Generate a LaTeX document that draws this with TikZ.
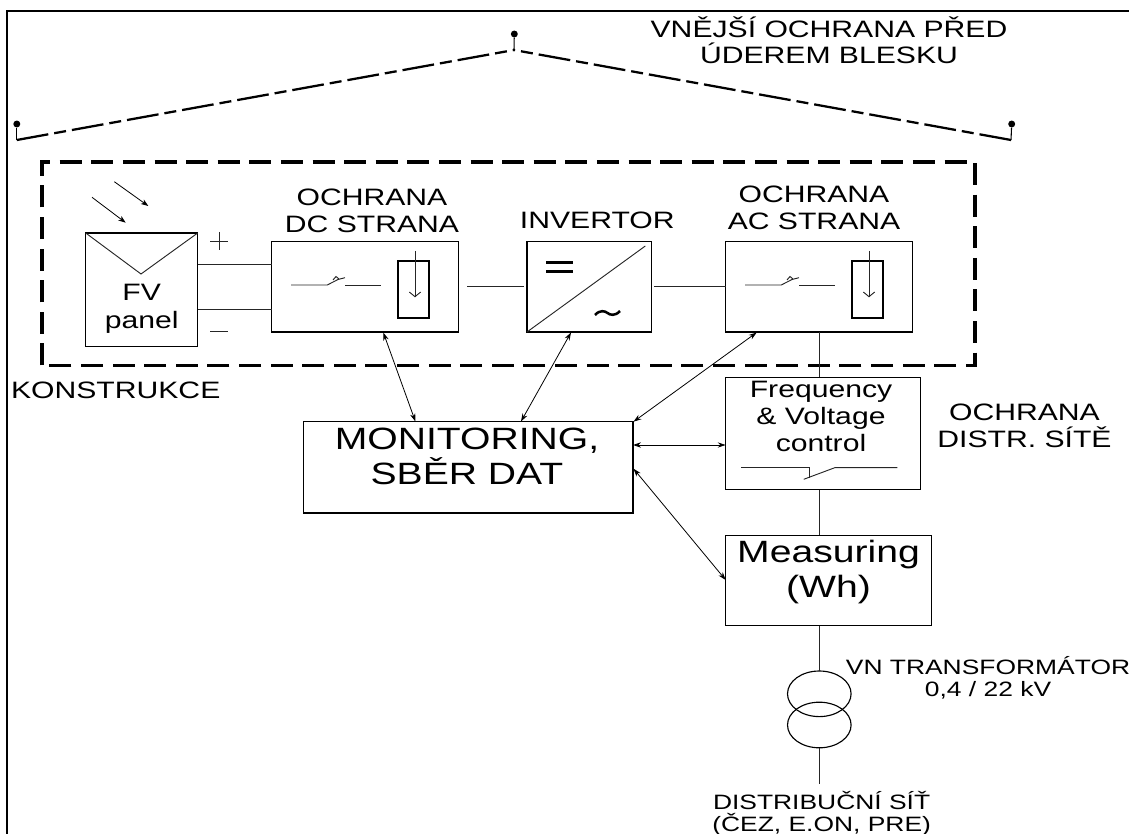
\documentclass[tikz,border=0pt]{standalone}
\usepackage{fontspec}
\setmainfont[FakeStretch=1.27]{Liberation Sans}
\usetikzlibrary{arrows.meta,shapes.geometric}
\newcommand{\bx}[5]{%
  \pgfmathsetlengthmacro{\bxw}{(#4-#2)*0.75pt}%
  \pgfmathsetlengthmacro{\bxh}{(#5-#3)*0.75pt}%
  \node[boxnode,minimum width=\bxw,minimum height=\bxh] (#1) at ({(#2+#4)/2},{(#3+#5)/2}) {};}
\tikzset{
  x=0.75pt,y=-0.75pt,
  boxnode/.style={draw=black,line width=0.85pt,inner sep=0pt,outer sep=0pt},
  wire/.style={line width=0.7pt,black!85},
  frameline/.style={line width=1.7pt,black},
  roofline/.style={line width=1.7pt,dash pattern=on 24pt off 4.5pt on 9pt off 4.5pt},
  pin/.style={line width=0.8pt},
  pinhead/.style={circle,fill=black,inner sep=0pt,minimum size=5.2pt},
  fuse/.style={draw=black,line width=1.4pt,inner sep=0pt,outer sep=0pt},
  duplex/.style={line width=0.6pt,{Stealth[length=6pt,width=4pt]}-{Stealth[length=6pt,width=4pt]}},
  sunray/.style={line width=0.6pt,-{Stealth[length=5.5pt,width=4pt,inset=1.5pt]}},
  lab/.style={inner sep=0pt,outer sep=0pt,anchor=base,align=center,text=black},
  normal/.style={lab,font=\fontsize{17.8}{20.2}\selectfont},
  big/.style={lab,font=\fontsize{23.1}{26.4}\selectfont},
  small/.style={lab,font=\fontsize{15.6}{16.5}\selectfont},
  coil/.style={draw=black,line width=0.85pt,ellipse,inner sep=0pt,outer sep=0pt,minimum width=47.7pt,minimum height=34.2pt},
}
\begin{document}
\begin{tikzpicture}
\useasboundingbox (0,0) rectangle (1129,834);
% sheet frame
\coordinate (fTR) at (1129,11);
\coordinate (fTL) at (6.8,11);
\coordinate (fBL) at (6.8,834);
\draw[frameline] (fTR) -- (fTL) -- (fBL);
% roof and air terminals
\coordinate (rL) at (16.8,140);
\coordinate (rA) at (514,50);
\coordinate (rR) at (1011,140);
\node[pinhead] (pL) at (16.8,124) {};
\node[pinhead] (pA) at (514.3,34) {};
\node[pinhead] (pR) at (1011.7,124) {};
\draw[pin] (pL) -- (rL);
\draw[pin] (pA) -- (rA);
\draw[pin] (pR) -- (rR);
\draw[roofline] (rL) -- (rA);
\draw[roofline] (rR) -- (rA);
% dashed structure
\draw[line width=2.3pt,dash pattern=on 16.5pt off 7.2pt] (42,365.5) -- (42,162) -- (975,162) -- (975,365.5) -- cycle;
% boxes
\bx{pv}{85.7}{233}{197.7}{346.3}
\bx{dc}{271.7}{241.3}{458.7}{332}
\bx{inv}{527}{241.3}{651.7}{332}
\bx{ac}{725.7}{241.3}{912.7}{332}
\bx{freq}{725.7}{377.3}{920.6}{489.7}
\bx{mon}{303.5}{421.7}{633}{513}
\bx{meas}{725.7}{535.3}{931.8}{625.7}
% sun rays
\coordinate (s1a) at (114.3,181.7);
\coordinate (s1b) at (148.3,206);
\coordinate (s2a) at (92,197.3);
\coordinate (s2b) at (125.7,222.7);
\draw[sunray] (s1a) -- (s1b);
\draw[sunray] (s2a) -- (s2b);
% panel
\coordinate (pvV) at (141,274);
\draw[wire] (pv.north west) -- (pvV) -- (pv.north east);
\node[normal] (tFV) at (141.7,329) {FV\\[0.8pt]panel};
\coordinate (w1) at (0,264);
\coordinate (w2) at (0,309.3);
\draw[wire] (pv.east |- w1) -- (dc.west |- w1);
\draw[wire] (pv.east |- w2) -- (dc.west |- w2);
\draw[wire,line width=0.55pt] (210,241) -- (228.3,241) (219,232) -- (219,250);
\draw[wire,line width=0.55pt] (210,331.7) -- (228.3,331.7);
% switch + fuse symbols
\foreach \dx/\nm in {0/dcs,454/acs}{
  \begin{scope}[shift={(\dx*0.75pt,0)}]
    \draw[wire] (291,285) -- (327.3,285) -- (338,279.5) -- (345,277.7);
    \draw[wire] (333,280) -- (336,276.5) -- (339,279);
    \draw[wire] (345,285.2) -- (380.7,285.2);
    \node[fuse,minimum width=23.7pt,minimum height=43pt] (\nm) at (413.5,289.7) {};
    \draw[wire] (415,251) -- (415,296.7);
    \draw[wire] (409.3,292) -- (415,296.7) -- (420.7,292);
  \end{scope}
}
% inverter symbol
\draw[wire] (inv.south west) -- (645.3,246);
\draw[line width=2.2pt] (546,262.7) -- (572.7,262.7) (546,271.7) -- (572.7,271.7);
\draw[line width=1.9pt] (595,315) .. controls (600,309.5) and (605,311) .. (607.5,313) .. controls (610,315) and (615,316.5) .. (620,311);
% series line
\coordinate (w3) at (0,286.3);
\draw[wire] (467.3,286.3) -- (524,286.3);
\draw[wire] (654.3,286.3) -- (ac.west |- w3);
% vertical chain
\coordinate (st) at (819.3,0);
\draw[wire] (ac.south -| st) -- (freq.north -| st);
\draw[wire] (freq.south -| st) -- (meas.north -| st);
\node[coil] (c1) at (819.3,693.8) {};
\node[coil] (c2) at (819.3,725) {};
\coordinate (gridEnd) at (819.3,784.3);
\draw[wire] (meas.south -| st) -- (c1.north);
\draw[wire] (c2.south) -- (gridEnd);
% frequency relay symbol
\draw[wire] (741.2,467.7) -- (809.5,467.7) -- (809.5,478.3);
\draw[wire] (897.3,467.7) -- (834.8,467.7) -- (803.7,479.3);
% data arrows
\coordinate (a1) at (383.3,332.5);
\coordinate (a1m) at (415.4,421.5);
\coordinate (a2) at (571,332.5);
\coordinate (a2m) at (521,421.5);
\coordinate (a3) at (756.7,332.5);
\coordinate (a3m) at (633.5,421.7);
\draw[duplex] (a1) -- (a1m);
\draw[duplex] (a2) -- (a2m);
\draw[duplex] (a3) -- (a3m);
\coordinate (a4) at (0,445);
\draw[duplex] (mon.east |- a4) -- (freq.west |- a4);
\coordinate (a5) at (633.5,468.7);
\coordinate (a5m) at (725.7,580);
\draw[duplex] (a5) -- (a5m);
% labels
\node[normal] (tTop) at (829,64) {VNĚJŠÍ OCHRANA PŘED\\ÚDEREM BLESKU};
\node[normal] (tDC) at (372,232.7) {OCHRANA\\DC STRANA};
\node[normal] (tInv) at (597.3,229) {INVERTOR};
\node[normal] (tAC) at (814,229.3) {OCHRANA\\AC STRANA};
\node[normal] (tKon) at (115.7,399) {KONSTRUKCE};
\node[big] (tMon) at (467,484.7) {MONITORING,\\SBĚR DAT};
\node[normal] (tFreq) at (821,451) {Frequency\\\&\ Voltage\\control};
\node[normal] (tOch) at (1024.5,447.7) {OCHRANA\\DISTR. SÍTĚ};
\node[big] (tMeas) at (828.5,597.3) {Measuring\\(Wh)};
\node[small] (tVN) at (988,696) {VN TRANSFORMÁTOR\\0,4 / 22 kV};
\node[small] (tDist) at (821.6,831.7) {DISTRIBUČNÍ SÍŤ\\(ČEZ, E.ON, PRE)};
\end{tikzpicture}
\end{document}
